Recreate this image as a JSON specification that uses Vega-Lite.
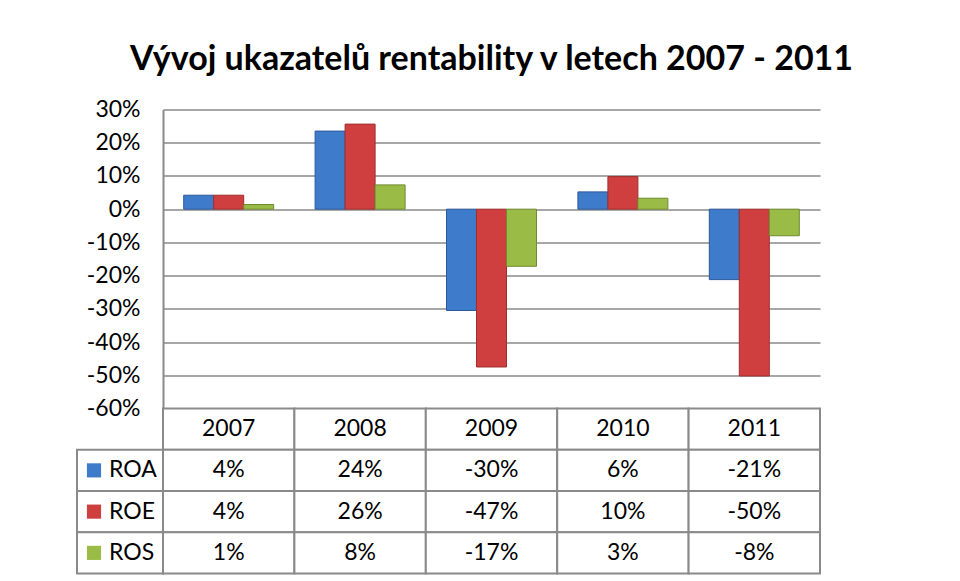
{
  "$schema": "https://vega.github.io/schema/vega-lite/v6.json",
  "padding": {"left": 76, "top": 42.5, "right": 5, "bottom": 5},
  "background": "white",
  "datasets": {
    "d": [
      {"year": "2007", "ind": "ROA", "value": 0.042, "label": "4%"},
      {"year": "2007", "ind": "ROE", "value": 0.042, "label": "4%"},
      {"year": "2007", "ind": "ROS", "value": 0.014, "label": "1%"},
      {"year": "2008", "ind": "ROA", "value": 0.235, "label": "24%"},
      {"year": "2008", "ind": "ROE", "value": 0.256, "label": "26%"},
      {"year": "2008", "ind": "ROS", "value": 0.073, "label": "8%"},
      {"year": "2009", "ind": "ROA", "value": -0.305, "label": "-30%"},
      {"year": "2009", "ind": "ROE", "value": -0.475, "label": "-47%"},
      {"year": "2009", "ind": "ROS", "value": -0.172, "label": "-17%"},
      {"year": "2010", "ind": "ROA", "value": 0.052, "label": "6%"},
      {"year": "2010", "ind": "ROE", "value": 0.098, "label": "10%"},
      {"year": "2010", "ind": "ROS", "value": 0.033, "label": "3%"},
      {"year": "2011", "ind": "ROA", "value": -0.212, "label": "-21%"},
      {"year": "2011", "ind": "ROE", "value": -0.502, "label": "-50%"},
      {"year": "2011", "ind": "ROS", "value": -0.08, "label": "-8%"}
    ],
    "years": [{"year": "2007"}, {"year": "2008"}, {"year": "2009"}, {"year": "2010"}, {"year": "2011"}],
    "inds": [{"ind": "ROA"}, {"ind": "ROE"}, {"ind": "ROS"}]
  },
  "columns": 2,
  "spacing": 0,
  "bounds": "flush",
  "concat": [
    {
      "width": 86,
      "height": 299,
      "data": {"values": [{}]},
      "mark": {"type": "point", "opacity": 0},
      "encoding": {}
    },
    {
      "width": 657,
      "height": 299,
      "title": {
        "text": "Vývoj ukazatelů rentability v letech 2007 - 2011",
        "font": "Lato",
        "fontSize": 34,
        "fontWeight": "bold",
        "color": "black",
        "anchor": "middle",
        "frame": "group",
        "offset": 22
      },
      "data": {"name": "d"},
      "mark": {"type": "bar", "strokeWidth": 1},
      "encoding": {
        "x": {
          "field": "year",
          "type": "nominal",
          "scale": {"paddingInner": 0, "paddingOuter": 0},
          "axis": null
        },
        "xOffset": {
          "field": "ind",
          "type": "nominal",
          "sort": ["ROA", "ROE", "ROS"],
          "scale": {"paddingInner": 0, "paddingOuter": 0.69}
        },
        "y": {
          "field": "value",
          "type": "quantitative",
          "scale": {"domain": [-0.6, 0.3], "nice": false, "zero": false},
          "axis": {
            "values": [-0.6, -0.5, -0.4, -0.3, -0.2, -0.1, 0, 0.1, 0.2, 0.3],
            "format": ".0%",
            "title": null,
            "ticks": false,
            "labelPadding": 23,
            "grid": true
          }
        },
        "color": {
          "field": "ind",
          "type": "nominal",
          "scale": {"domain": ["ROA", "ROE", "ROS"], "range": ["#3f7bcb", "#d03f3f", "#9bbb47"]},
          "legend": null
        },
        "stroke": {
          "field": "ind",
          "type": "nominal",
          "scale": {"domain": ["ROA", "ROE", "ROS"], "range": ["#2c5a98", "#9e2e2e", "#6f8a30"]},
          "legend": null
        }
      }
    },
    {
      "width": 86,
      "height": 165,
      "data": {"name": "inds"},
      "encoding": {
        "y": {
          "field": "ind",
          "type": "nominal",
          "scale": {"domain": ["hdr", "ROA", "ROE", "ROS"], "paddingInner": 0, "paddingOuter": 0},
          "axis": null
        }
      },
      "layer": [
        {"mark": {"type": "rect", "fill": "white", "stroke": "#8a8a8a", "strokeWidth": 2}},
        {
          "mark": {"type": "point", "shape": "square", "filled": true, "size": 200, "xOffset": -26, "opacity": 1, "strokeWidth": 1},
          "encoding": {
            "color": {"field": "ind", "type": "nominal", "scale": {"domain": ["ROA", "ROE", "ROS"], "range": ["#3f7bcb", "#d03f3f", "#9bbb47"]}, "legend": null}
          }
        },
        {
          "mark": {"type": "text", "align": "left", "baseline": "middle", "dx": -11, "font": "Lato", "fontSize": 23, "color": "black"},
          "encoding": {"text": {"field": "ind"}}
        }
      ]
    },
    {
      "width": 657,
      "height": 165,
      "layer": [
        {
          "data": {"name": "years"},
          "encoding": {
            "x": {"field": "year", "type": "nominal", "scale": {"paddingInner": 0, "paddingOuter": 0}, "axis": null},
            "y": {"datum": "hdr", "type": "nominal", "scale": {"domain": ["hdr", "ROA", "ROE", "ROS"], "paddingInner": 0, "paddingOuter": 0}, "axis": null}
          },
          "layer": [
            {"mark": {"type": "rect", "fill": "white", "stroke": "#8a8a8a", "strokeWidth": 2}},
            {
              "mark": {"type": "text", "baseline": "middle", "font": "Lato", "fontSize": 23, "color": "black"},
              "encoding": {"text": {"field": "year"}}
            }
          ]
        },
        {
          "data": {"name": "d"},
          "encoding": {
            "x": {"field": "year", "type": "nominal", "axis": null},
            "y": {"field": "ind", "type": "nominal", "axis": null}
          },
          "layer": [
            {"mark": {"type": "rect", "fill": "white", "stroke": "#8a8a8a", "strokeWidth": 2}},
            {
              "mark": {"type": "text", "baseline": "middle", "font": "Lato", "fontSize": 23, "color": "black"},
              "encoding": {"text": {"field": "label"}}
            }
          ]
        }
      ]
    }
  ],
  "config": {
    "locale": {"number": {"decimal": ".", "thousands": ",", "grouping": [3], "currency": ["$", ""], "minus": "-"}},
    "view": {"stroke": null},
    "axis": {
      "labelFont": "Lato",
      "labelFontSize": 23,
      "labelColor": "black",
      "domainColor": "#8a8a8a",
      "domainWidth": 2,
      "gridColor": "#8a8a8a",
      "gridWidth": 1.5,
      "gridOpacity": 1
    }
  }
}
